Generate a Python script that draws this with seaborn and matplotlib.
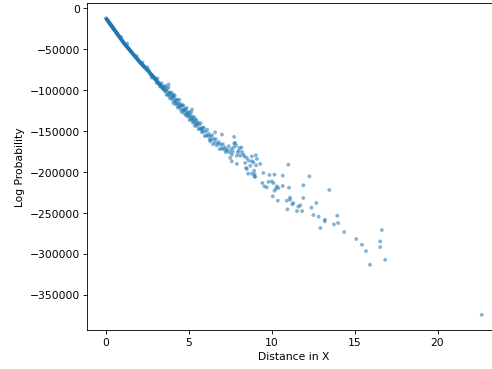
import numpy as np
import pandas as pd
import matplotlib
matplotlib.use("Agg")
import matplotlib.pyplot as plt
import seaborn as sns

# dense part of the curve, x from 0 to 3.5
x_dense = [0.00, 0.02, 0.04, 0.05, 0.07, 0.09, 0.10, 0.12, 0.14, 0.15, 0.17, 0.19, 0.21, 0.22, 0.24, 0.26,
           0.27, 0.29, 0.31, 0.33, 0.34, 0.36, 0.38, 0.39, 0.41, 0.43, 0.45, 0.46, 0.48, 0.50, 0.52, 0.54,
           0.56, 0.58, 0.60, 0.62, 0.64, 0.66, 0.68, 0.70, 0.72, 0.74, 0.76, 0.78, 0.80, 0.82, 0.84, 0.86,
           0.88, 0.90, 0.92, 0.94, 0.96, 0.98, 1.00, 1.02, 1.04, 1.06, 1.08, 1.10, 1.12, 1.14, 1.16, 1.18,
           1.20, 1.22, 1.24, 1.26, 1.28, 1.30, 1.32, 1.34, 1.36, 1.38, 1.40, 1.42, 1.44, 1.46, 1.48, 1.50,
           1.52, 1.55, 1.57, 1.60, 1.62, 1.64, 1.67, 1.69, 1.72, 1.74, 1.76, 1.79, 1.81, 1.83, 1.86, 1.88,
           1.90, 1.93, 1.95, 1.97, 2.00, 2.02, 2.04, 2.07, 2.10, 2.12, 2.15, 2.18, 2.20, 2.23, 2.26, 2.28,
           2.31, 2.34, 2.36, 2.39, 2.42, 2.44, 2.47, 2.50, 2.52, 2.55, 2.58, 2.60, 2.63, 2.66, 2.68, 2.71,
           2.74, 2.76, 2.79, 2.82, 2.84, 2.87, 2.90, 2.92, 2.95, 2.98, 3.00, 3.04, 3.08, 3.10, 3.14, 3.18,
           3.20, 3.24, 3.28, 3.30, 3.34, 3.38, 3.40, 3.44, 3.48, 3.50,
           0.90, 1.27, 1.85, 2.20, 2.50, 3.10, 3.35, 2.75, 3.05, 3.25]
y_dense = [-12000, -12900, -13100, -13800, -14100, -14300, -15200, -15400, -15700, -16600, -16700, -17500,
           -17900, -18700, -19000, -19100, -20000, -20300, -20600, -21500, -21200, -22400, -22500, -23300,
           -23500, -24300, -24600, -25400, -25500, -25900, -26900, -27200, -27500, -28600, -28700, -29400,
           -30300, -30600, -31000, -32100, -32200, -33100, -33300, -34200, -34400, -35300, -35500, -36400,
           -36600, -37200, -38100, -38300, -39300, -39500, -40000, -41100, -41200, -41800, -42700, -42900,
           -43800, -43700, -44600, -44800, -45600, -45700, -46800, -46500, -47600, -47400, -48500, -48600,
           -49000, -49900, -50000, -50500, -51400, -51500, -52000, -52900, -53000, -53600, -54500, -55000,
           -55900, -55800, -56900, -57000, -58200, -58300, -58600, -59700, -60000, -60400, -61400, -61700,
           -62000, -63100, -63300, -63800, -64900, -65000, -65500, -66700, -66900, -67200, -68200, -68900,
           -68800, -70000, -70500, -70400, -71600, -72200, -72000, -73300, -73900, -73500, -75000, -75500,
           -75200, -76600, -77200, -76800, -79000, -79600, -79300, -80700, -81500, -81100, -82600, -83300,
           -82900, -84500, -85100, -84700, -86300, -87000, -86500, -88500, -89500, -88900, -91000, -92000,
           -91200, -93500, -94200, -93400, -96000, -96500, -95700, -98400, -99000, -98200,
           -35000, -43000, -58500, -66000, -72000, -85500, -91500, -84500, -91000, -95500]

# wider band, x from 3.5 to 7.3
x_mid = [3.52, 3.55, 3.58, 3.61, 3.64, 3.67, 3.70, 3.73, 3.76, 3.79, 3.82, 3.85, 3.88, 3.91, 3.94, 3.97,
         4.00, 4.03, 4.06, 4.09, 4.12, 4.15, 4.18, 4.21, 4.24, 4.27, 4.30, 4.33, 4.36, 4.39, 4.42, 4.45,
         4.48, 4.51, 4.54, 4.57, 4.60, 4.63, 4.66, 4.69, 4.72, 4.75, 4.78, 4.81, 4.84, 4.87, 4.90, 4.93,
         4.96, 4.99, 5.02, 5.05, 5.08, 5.11, 5.14, 5.17, 5.20, 5.23, 5.26, 5.29, 5.32, 5.35, 5.38, 5.41,
         5.44, 5.47, 5.50, 5.54, 5.58, 5.62, 5.66, 5.70, 5.74, 5.78, 5.82, 5.86, 5.90, 5.95, 6.00, 6.05,
         6.10, 6.15, 6.20, 6.25, 6.30, 6.35, 6.40, 6.45, 6.50, 6.56, 6.62, 6.68, 6.74, 6.80, 6.86, 6.92,
         6.98, 7.04, 7.10, 7.16, 7.22, 7.28,
         3.77, 4.07, 5.18, 5.78, 6.28, 6.58, 6.99]
y_mid = [-95500, -101100, -94800, -100500, -105200, -97800, -101500, -106200, -96800, -105500, -103200, -109900,
         -103100, -107700, -102900, -111100, -108500, -106100, -115800, -109000, -113600, -106800, -113500,
         -117600, -111800, -116400, -111600, -121300, -115900, -120100, -111700, -119900, -116600, -123700,
         -119300, -126900, -118600, -124200, -118300, -126900, -124100, -122700, -130300, -124400, -129000,
         -121600, -128800, -132400, -126500, -131600, -127400, -136500, -130700, -135300, -127000, -135100,
         -132300, -139400, -135100, -138700, -132900, -143500, -136700, -140800, -136000, -143700, -141000,
         -139300, -147700, -142000, -146900, -140200, -147000, -151400, -145700, -150600, -145900, -156000,
         -150500, -155400, -148400, -155800, -153300, -160200, -156200, -160600, -155100, -166000, -159500,
         -164000, -160000, -167500, -165100, -163600, -172100, -166600, -171100, -165900, -172300, -169700,
         -175700, -172500,
         -93000, -105300, -123600, -148100, -162400, -151400, -154200]

# sparse tail, x beyond 7.3
x_tail = [7.30, 7.40, 7.45, 7.49, 7.55, 7.59, 7.59, 7.65, 7.70, 7.73, 7.73, 7.79, 7.85, 7.89, 7.89, 7.95,
          8.00, 8.05, 8.09, 8.17, 8.20, 8.29, 8.35, 8.39, 8.45, 8.49, 8.49, 8.57, 8.60, 8.70, 8.80, 8.80,
          8.80, 8.89, 8.93, 8.96, 8.96, 9.00, 9.04, 9.05, 9.10, 9.30, 9.43, 9.49, 9.55, 9.70, 9.80, 9.86,
          10.00, 10.06, 10.10, 10.16, 10.16, 10.26, 10.30, 10.36, 10.40, 10.66, 10.66, 10.90, 10.94, 11.00,
          11.04, 11.10, 11.10, 11.24, 11.30, 11.52, 11.60, 11.72, 11.83, 11.90, 11.90, 12.27, 12.39, 12.51,
          12.69, 12.83, 12.93, 13.20, 13.20, 13.47, 13.75, 13.95, 14.00, 14.37, 15.10, 15.44, 15.68, 15.92,
          16.54, 16.54, 16.64, 16.84, 22.67]
y_tail = [-174000, -168500, -176000, -182700, -172000, -186900, -178700, -175000, -170000, -157000, -165200,
          -164400, -167700, -179900, -190100, -176000, -174000, -170500, -179900, -170100, -175500, -178700,
          -181000, -188900, -195000, -182700, -196200, -202000, -186000, -192500, -180800, -186900, -202000,
          -188100, -198300, -202600, -205300, -206000, -179500, -191800, -184000, -190100, -213400, -201100,
          -217500, -218700, -212100, -203600, -211400, -229700, -213400, -203200, -222800, -220300, -217500,
          -235000, -219500, -204400, -217000, -235000, -245600, -191000, -219100, -231300, -233800, -239500,
          -237900, -247700, -242400, -240700, -247700, -216200, -231700, -205200, -243600, -252600, -237900,
          -254600, -268400, -258300, -260300, -221900, -264000, -253400, -262300, -273300, -281900, -288900,
          -296600, -313300, -284800, -291700, -270900, -307200, -374500]

df = pd.DataFrame({
    "Distance in X": x_dense + x_mid + x_tail,
    "Log Probability": y_dense + y_mid + y_tail,
})

fig = plt.figure(figsize=(6.4, 4.8), dpi=77)
ax = fig.add_axes([0.1771, 0.1065, 0.8387, 0.8827])
sns.scatterplot(data=df, x="Distance in X", y="Log Probability", s=13, alpha=0.55,
                edgecolor="none", color="#1f77b4", ax=ax)
ax.set_xlabel("Distance in X")
ax.set_ylabel("Log Probability")

fig.savefig("out.png", dpi=77)
